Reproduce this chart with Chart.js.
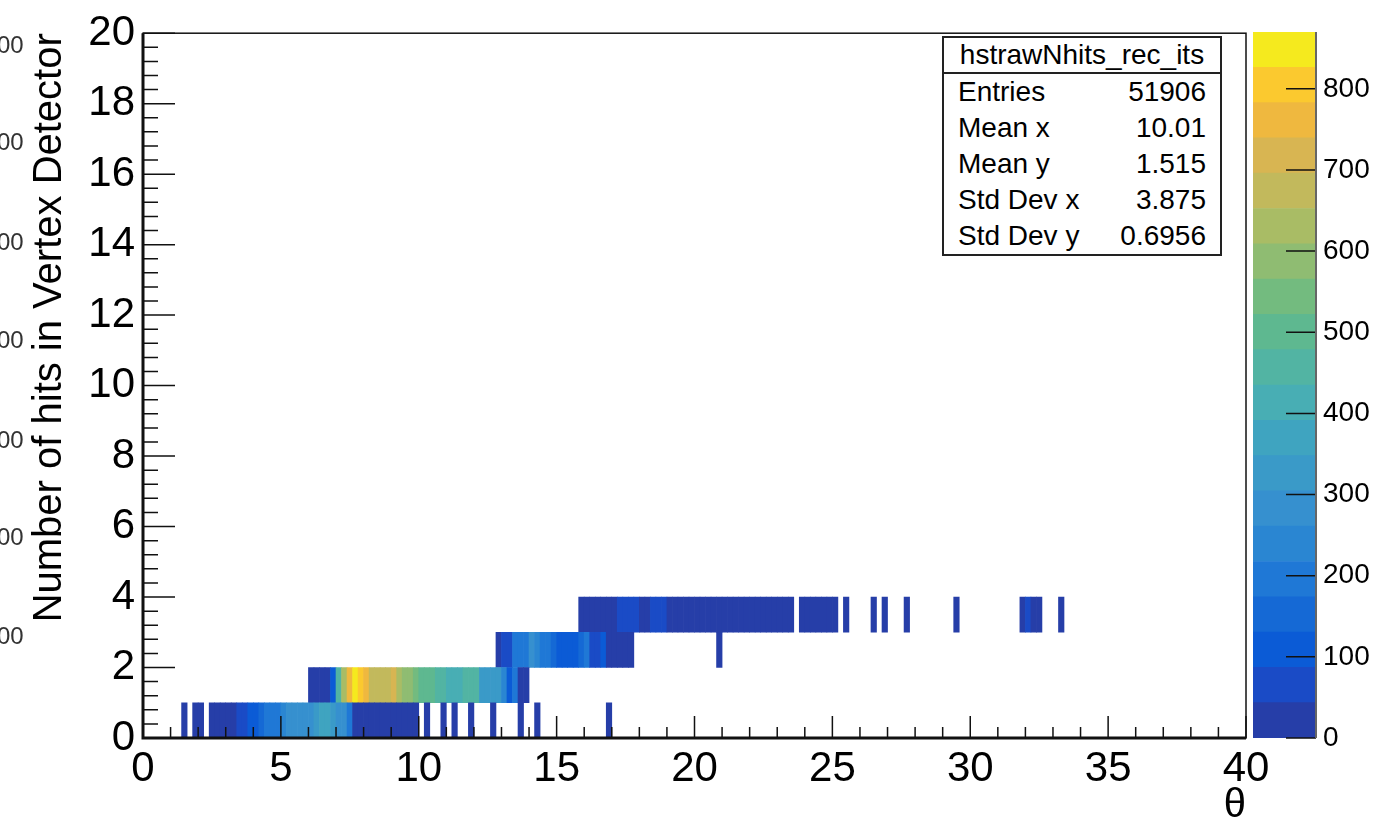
<!DOCTYPE html>
<html>
<head>
<meta charset="utf-8">
<script src="https://cdn.jsdelivr.net/npm/chart.js@4.4.1/dist/chart.umd.min.js"></script>
<style>
  body { margin: 0; width: 1383px; height: 818px; overflow: hidden; position: relative; background: #fff;
         font-family: 'Liberation Sans', Arial, sans-serif; }
  canvas { position: absolute; top: 0; }
  #stats { position: absolute; left: 942px; top: 36px; width: 276px; border: 2px solid #222; background: #fff;
           font-size: 28px; color: #000; }
  #stats .title { text-align: center; height: 34px; line-height: 34px; border-bottom: 2px solid #222; }
  #stats .row { display: flex; justify-content: space-between; height: 36px; line-height: 36px; padding: 0 14px; }
  .cut { position: absolute; left: -3px; font-size: 24px; color: #333; }
</style>
</head>
<body>
<canvas id="main" width="1383" height="818" style="left:0"></canvas>
<canvas id="scale" width="143" height="818" style="left:1240px"></canvas>
<div id="stats"></div>
<div id="edge"></div>
<script>
// histogram bins: low edge in theta, bin width 0.2, one list per number of hits
const binWidth = 0.2;
const nHits = [0, 1, 2, 3];

const thetaRow0 = [1.4, 1.8, 2.0, 2.4, 2.6, 2.8, 3.0, 3.2, 3.4, 3.6, 3.8, 4.0, 4.2, 4.4, 4.6, 4.8, 5.0,
  5.2, 5.4, 5.6, 5.8, 6.0, 6.2, 6.4, 6.6, 6.8, 7.0, 7.2, 7.4, 7.6, 7.8, 8.0, 8.2, 8.4, 8.6, 8.8, 9.0,
  9.2, 9.4, 9.6, 9.8, 10.2, 10.8, 11.2, 11.8, 12.6, 13.6, 14.2, 16.8];
const countsRow0 = [4, 7, 9, 28, 24, 31, 35, 38, 66, 78, 112, 128, 140, 196, 205, 210, 222,
  262, 270, 282, 292, 300, 318, 352, 360, 330, 290, 280, 190, 36, 33, 30, 34, 29, 27, 31, 28,
  25, 30, 26, 22, 8, 6, 5, 7, 4, 6, 3, 2];

const thetaRow1 = [6.0, 6.2, 6.4, 6.6, 6.8, 7.0, 7.2, 7.4, 7.6, 7.8, 8.0, 8.2, 8.4, 8.6, 8.8, 9.0,
  9.2, 9.4, 9.6, 9.8, 10.0, 10.2, 10.4, 10.6, 10.8, 11.0, 11.2, 11.4, 11.6, 11.8, 12.0, 12.2, 12.4,
  12.6, 12.8, 13.0, 13.2, 13.4, 13.6, 13.8];
const countsRow1 = [30, 35, 31, 40, 95, 470, 640, 760, 860, 790, 760, 680, 670, 665, 685, 710,
  640, 600, 575, 545, 520, 495, 480, 470, 440, 425, 415, 420, 455, 460, 445, 340, 335,
  320, 305, 240, 115, 195, 36, 28];

const thetaRow2 = [12.8, 13.0, 13.2, 13.4, 13.6, 13.8, 14.0, 14.2, 14.4, 14.6, 14.8, 15.0, 15.2,
  15.4, 15.6, 15.8, 16.0, 16.2, 16.4, 16.6, 16.8, 17.0, 17.2, 17.4, 17.6, 20.8];
const countsRow2 = [38, 60, 72, 205, 215, 210, 265, 218, 212, 200, 150, 118, 108,
  102, 125, 132, 180, 80, 76, 120, 32, 30, 27, 24, 20, 6];

const thetaRow3 = [15.8, 16.0, 16.2, 16.4, 16.6, 16.8, 17.0, 17.2, 17.4, 17.6, 17.8, 18.0, 18.2,
  18.4, 18.6, 18.8, 19.0, 19.2, 19.4, 19.6, 19.8, 20.0, 20.2, 20.4, 20.6, 20.8, 21.0, 21.2, 21.4,
  21.6, 21.8, 22.0, 22.2, 22.4, 22.6, 22.8, 23.0, 23.2, 23.4, 23.8, 24.0, 24.2, 24.4, 24.6, 24.8,
  25.0, 25.4, 26.4, 26.8, 27.6, 29.4, 31.8, 32.0, 32.2, 32.4, 33.2];
const countsRow3 = [24, 28, 31, 26, 33, 29, 35, 58, 64, 70, 55, 36, 40,
  62, 68, 52, 38, 34, 30, 36, 27, 33, 29, 31, 25, 28, 32, 26, 30,
  24, 27, 22, 25, 28, 21, 24, 19, 22, 18, 15, 18, 16, 14, 17, 12,
  10, 7, 4, 3, 4, 3, 12, 48, 20, 14, 3];

// colour scale
const zMax = 870;
const nLevels = 20;

// stats box
const histName = 'hstrawNhits_rec_its';
const statLabels = ['Entries', 'Mean x', 'Mean y', 'Std Dev x', 'Std Dev y'];
const statValues = ['51906', '10.01', '1.515', '3.875', '0.6956'];

// bird palette, 20 contour levels (bottom to top)
const palette = ['#263ea8', '#1a4bc6', '#0b5bd6', '#1569d5', '#1f78d6', '#2a86d2', '#3690cf',
  '#3a9ac8', '#3fa4c0', '#48aeb4', '#52b4a3', '#5eb890', '#73bb7f', '#8fbc72', '#a9bc65',
  '#c2b95c', '#d8b552', '#efb83f', '#fbc92f', '#f5ea1e'];

function levelColor(z) {
  const i = Math.min(nLevels - 1, Math.floor(z / (zMax / nLevels)));
  return palette[i];
}

Chart.defaults.font.family = "'Liberation Sans', Arial, sans-serif";
Chart.defaults.color = '#000';

const rows = [[thetaRow0, countsRow0], [thetaRow1, countsRow1], [thetaRow2, countsRow2], [thetaRow3, countsRow3]];
const datasets = rows.map(([theta, counts], r) => ({
  data: theta.map(t => ({ x: t + binWidth / 2, y: [nHits[r], nHits[r] + 1] })),
  backgroundColor: counts.map(levelColor),
  borderWidth: 0,
  barPercentage: 1,
  categoryPercentage: 1,
  grouped: false
}));

// ROOT style frame with ticks pointing inside
const rootFrame = {
  id: 'rootFrame',
  afterDraw(chart) {
    const { ctx, chartArea: a, scales: { x, y } } = chart;
    ctx.save();
    ctx.strokeStyle = '#111';
    ctx.lineWidth = 1.5;
    ctx.beginPath();
    for (let k = 0; k <= 50; k++) {
      const py = y.getPixelForValue(k * 0.4);
      const len = k % 5 === 0 ? 32 : 15;
      ctx.moveTo(a.left, py);
      ctx.lineTo(a.left + len, py);
    }
    for (let k = 0; k <= 40; k++) {
      const px = x.getPixelForValue(k);
      const len = k % 5 === 0 ? 22 : 11;
      ctx.moveTo(px, a.bottom);
      ctx.lineTo(px, a.bottom - len);
    }
    ctx.stroke();
    ctx.strokeRect(a.left, a.top, a.right - a.left, a.bottom - a.top);
    ctx.lineWidth = 3;
    ctx.beginPath();
    ctx.moveTo(a.left, a.top);
    ctx.lineTo(a.left, a.bottom);
    ctx.lineTo(a.right, a.bottom);
    ctx.stroke();
    ctx.restore();
  }
};

new Chart(document.getElementById('main'), {
  type: 'bar',
  data: { datasets },
  options: {
    responsive: false,
    animation: false,
    layout: { padding: { top: 32, right: 137, left: 0, bottom: 0 } },
    plugins: { legend: { display: false }, tooltip: { enabled: false } },
    scales: {
      x: {
        type: 'linear', min: 0, max: 40, offset: false,
        grid: { display: false, drawTicks: false, offset: false },
        border: { display: false },
        ticks: { stepSize: 5, padding: 6, font: { size: 42 }, maxRotation: 0, includeBounds: false },
        title: { display: true, text: 'θ', align: 'end', font: { size: 40 }, padding: { top: 0, bottom: -12 } },
        afterFit: s => { s.height = 80; }
      },
      y: {
        type: 'linear', min: 0, max: 20,
        grid: { display: false, drawTicks: false },
        border: { display: false },
        ticks: { stepSize: 2, padding: 8, font: { size: 42 }, includeBounds: false },
        title: { display: true, text: 'Number of hits in Vertex Detector', align: 'end',
                 font: { size: 40 }, padding: { top: 26, bottom: 0 } },
        afterFit: s => { s.width = 143; }
      }
    }
  },
  plugins: [rootFrame]
});

// colour bar
const levelSize = zMax / nLevels;
const bandSets = palette.map(c => ({
  data: [levelSize], backgroundColor: c, borderWidth: 0, barPercentage: 1, categoryPercentage: 1
}));

const paletteAxis = {
  id: 'paletteAxis',
  afterDraw(chart) {
    const { ctx, chartArea: a, scales: { y } } = chart;
    ctx.save();
    ctx.strokeStyle = '#111';
    ctx.lineWidth = 1.5;
    ctx.beginPath();
    y.ticks.forEach(t => {
      const py = y.getPixelForValue(t.value);
      ctx.moveTo(a.right - 30, py);
      ctx.lineTo(a.right, py);
    });
    ctx.stroke();
    ctx.strokeStyle = '#666';
    ctx.lineWidth = 2;
    ctx.beginPath();
    ctx.moveTo(a.right, a.top);
    ctx.lineTo(a.right, a.bottom);
    ctx.stroke();
    ctx.restore();
  }
};

new Chart(document.getElementById('scale'), {
  type: 'bar',
  data: { labels: [''], datasets: bandSets },
  options: {
    responsive: false,
    animation: false,
    layout: { padding: { top: 32, left: 13, bottom: 80, right: 0 } },
    plugins: { legend: { display: false }, tooltip: { enabled: false } },
    scales: {
      x: { display: false, stacked: true },
      y: {
        stacked: true, position: 'right', min: 0, max: zMax,
        grid: { display: false, drawTicks: false },
        border: { display: false },
        ticks: { stepSize: 100, includeBounds: false, padding: 7, font: { size: 28 } },
        afterFit: s => { s.width = 67; }
      }
    }
  },
  plugins: [paletteAxis]
});

// stats box
const stats = document.getElementById('stats');
let html = '<div class="title">' + histName + '</div><div style="padding-top:0">';
statLabels.forEach((l, i) => {
  html += '<div class="row"><span>' + l + '</span><span>' + statValues[i] + '</span></div>';
});
stats.innerHTML = html + '</div>';

// clipped labels of a neighbouring plot at the left edge
const edgeTops = [31, 128, 228, 326, 426, 523, 622];
document.getElementById('edge').innerHTML =
  edgeTops.map(t => '<span class="cut" style="top:' + t + 'px">00</span>').join('');
</script>
</body>
</html>
